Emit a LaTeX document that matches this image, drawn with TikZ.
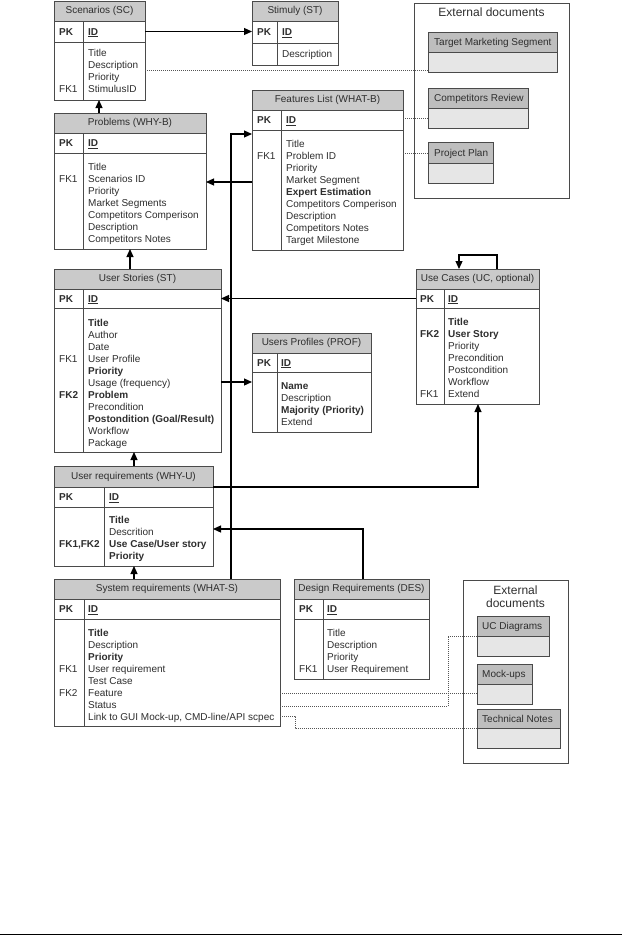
\documentclass[tikz,border=0pt]{standalone}
\usepackage{fontspec}
\setmainfont{Liberation Sans}
\usepackage{xcolor}
\usepackage{tikz}
\usetikzlibrary{calc,arrows.meta}
\definecolor{ink}{HTML}{2E2E2E}
\definecolor{edge}{HTML}{4A4A4A}
\definecolor{hdrfill}{HTML}{CACACA}
\definecolor{dochead}{HTML}{BEBEBE}
\definecolor{docbody}{HTML}{E6E6E6}
\definecolor{dotline}{HTML}{555555}
\tikzset{
  box/.style={draw=edge, line width=0.8pt, anchor=north west, inner sep=0pt, outer sep=0pt},
  hdr/.style={box, fill=hdrfill, text=ink},
  row/.style={box, fill=white},
  doch/.style={box, fill=dochead},
  docb/.style={box, fill=docbody},
  div/.style={draw=edge, line width=0.8pt},
  fld/.style={anchor=base west, text=ink, inner sep=0pt},
  key/.style={fld, font=\bfseries},
  ttl/.style={text=ink, inner sep=0pt, font=\fontsize{12}{13.5}\selectfont, align=center},
  fk/.style={draw=black, line width=1.2pt, -{Triangle[length=8pt,width=7pt]}},
  doc/.style={draw=dotline, line width=0.8pt, dash pattern=on 1pt off 1pt},
}

\begin{document}
\begin{tikzpicture}[x=1pt, y=-1pt, font=\fontsize{10}{12}\selectfont]
  \useasboundingbox (0,0) rectangle (624,937);

  % Scenarios
  \node[hdr, minimum width=91, minimum height=20] (sc) at (54,1) {Scenarios (SC)};
  \node[row, minimum width=91, minimum height=21] (sc-pk) at (54,21) {};
  \node[row, minimum width=91, minimum height=58] (sc-body) at (54,42) {};
  \draw[div] (83,21) -- (83,100);
  \node[key] (sc-k) at (59,35.1) {PK};
  \node[key] (sc-id) at (88,35.1) {\underline{ID}};
  \foreach \field [count=\i from 0] in {Title,Description,Priority,StimulusID}
    \node[fld] (sc-f\i) at (88,56.6+12*\i) {\field};
  \node[fld] (sc-fk1) at (59,92.6) {FK1};

  % Stimuly
  \node[hdr, minimum width=86, minimum height=20] (stm) at (252,1) {Stimuly (ST)};
  \node[row, minimum width=86, minimum height=22] (stm-pk) at (252,21) {};
  \node[row, minimum width=86, minimum height=22] (stm-body) at (252,43) {};
  \draw[div] (277,21) -- (277,65);
  \node[key] (stm-k) at (257,35.6) {PK};
  \node[key] (stm-id) at (282,35.6) {\underline{ID}};
  \node[fld] (stm-f0) at (282,57.6) {Description};

  % External documents (top)
  \node[box, minimum width=155, minimum height=195] (ext1) at (414,3) {};
  \node[ttl] (ext1-t) at (491.5,12) {External documents};
  \node[doch, minimum width=129, minimum height=20] (tms) at (428,32) {};
  \node[docb, minimum width=129, minimum height=20] (tms-body) at (428,52) {};
  \node[fld] (tms-t) at (434,45.6) {Target Marketing Segment};
  \node[doch, minimum width=100, minimum height=20] (cr) at (428,88) {};
  \node[docb, minimum width=100, minimum height=20] (cr-body) at (428,108) {};
  \node[fld] (cr-t) at (434,101.6) {Competitors Review};
  \node[doch, minimum width=65, minimum height=21] (pp) at (428,142) {};
  \node[docb, minimum width=65, minimum height=20] (pp-body) at (428,163) {};
  \node[fld] (pp-t) at (434,156.1) {Project Plan};

  % Problems
  \node[hdr, minimum width=152, minimum height=20] (pb) at (54,113) {Problems (WHY-B)};
  \node[row, minimum width=152, minimum height=20] (pb-pk) at (54,133) {};
  \node[row, minimum width=152, minimum height=96] (pb-body) at (54,153) {};
  \draw[div] (83,133) -- (83,249);
  \node[key] (pb-k) at (59,146.6) {PK};
  \node[key] (pb-id) at (88,146.6) {\underline{ID}};
  \foreach \field [count=\i from 0] in {Title,Scenarios ID,Priority,Market Segments,
      Competitors Comperison,Description,Competitors Notes}
    \node[fld] (pb-f\i) at (88,170.6+12*\i) {\field};
  \node[fld] (pb-fk1) at (59,182.6) {FK1};

  % Features List
  \node[hdr, minimum width=151, minimum height=20] (fl) at (252,90) {Features List (WHAT-B)};
  \node[row, minimum width=151, minimum height=20] (fl-pk) at (252,110) {};
  \node[row, minimum width=151, minimum height=120] (fl-body) at (252,130) {};
  \draw[div] (281,110) -- (281,250);
  \node[key] (fl-k) at (257,123.6) {PK};
  \node[key] (fl-id) at (286,123.6) {\underline{ID}};
  \foreach \field [count=\i from 0] in {Title,Problem ID,Priority,Market Segment,
      \textbf{Expert Estimation},Competitors Comperison,Description,
      Competitors Notes,Target Milestone}
    \node[fld] (fl-f\i) at (286,147.6+12*\i) {\field};
  \node[fld] (fl-fk1) at (257,159.6) {FK1};

  % User Stories
  \node[hdr, minimum width=167, minimum height=20] (us) at (54,269) {User Stories (ST)};
  \node[row, minimum width=167, minimum height=19] (us-pk) at (54,289) {};
  \node[row, minimum width=167, minimum height=144] (us-body) at (54,308) {};
  \draw[div] (83,289) -- (83,452);
  \node[key] (us-k) at (59,302.1) {PK};
  \node[key] (us-id) at (88,302.1) {\underline{ID}};
  \foreach \field [count=\i from 0] in {\textbf{Title},Author,Date,User Profile,
      \textbf{Priority},Usage (frequency),\textbf{Problem},Precondition,
      \textbf{Postondition (Goal/Result)},Workflow,Package}
    \node[fld] (us-f\i) at (88,326.6+12*\i) {\field};
  \node[fld] (us-fk1) at (59,362.6) {FK1};
  \node[key] (us-fk2) at (59,398.6) {FK2};

  % Use Cases
  \node[hdr, minimum width=123, minimum height=20] (uc) at (416,269) {Use Cases (UC, optional)};
  \node[row, minimum width=123, minimum height=19] (uc-pk) at (416,289) {};
  \node[row, minimum width=123, minimum height=96] (uc-body) at (416,308) {};
  \draw[div] (444,289) -- (444,404);
  \node[key] (uc-k) at (420,302.1) {PK};
  \node[key] (uc-id) at (448,302.1) {\underline{ID}};
  \foreach \field [count=\i from 0] in {\textbf{Title},\textbf{User Story},Priority,
      Precondition,Postcondition,Workflow,Extend}
    \node[fld] (uc-f\i) at (448,325.6+12*\i) {\field};
  \node[key] (uc-fk2) at (420,337.6) {FK2};
  \node[fld] (uc-fk1) at (420,397.6) {FK1};

  % Users Profiles
  \node[hdr, minimum width=119, minimum height=20] (up) at (252,333) {Users Profiles (PROF)};
  \node[row, minimum width=119, minimum height=19] (up-pk) at (252,353) {};
  \node[row, minimum width=119, minimum height=60] (up-body) at (252,372) {};
  \draw[div] (277,353) -- (277,432);
  \node[key] (up-k) at (257,366.1) {PK};
  \node[key] (up-id) at (281,366.1) {\underline{ID}};
  \foreach \field [count=\i from 0] in {\textbf{Name},Description,
      \textbf{Majority (Priority)},Extend}
    \node[fld] (up-f\i) at (281,389.6+12*\i) {\field};

  % User requirements
  \node[hdr, minimum width=159, minimum height=21] (ur) at (54,466) {User requirements (WHY-U)};
  \node[row, minimum width=159, minimum height=20] (ur-pk) at (54,487) {};
  \node[row, minimum width=159, minimum height=59] (ur-body) at (54,507) {};
  \draw[div] (104,487) -- (104,566);
  \node[key] (ur-k) at (59,500.6) {PK};
  \node[key] (ur-id) at (109,500.6) {\underline{ID}};
  \foreach \field [count=\i from 0] in {\textbf{Title},Descrition,
      \textbf{Use Case/User story},\textbf{Priority}}
    \node[fld] (ur-f\i) at (109,523.6+12*\i) {\field};
  \node[key] (ur-fk) at (59,547.6) {FK1,FK2};

  % System requirements
  \node[hdr, minimum width=226, minimum height=20] (sr) at (54,579) {System requirements (WHAT-S)};
  \node[row, minimum width=226, minimum height=20] (sr-pk) at (54,599) {};
  \node[row, minimum width=226, minimum height=107] (sr-body) at (54,619) {};
  \draw[div] (84,599) -- (84,726);
  \node[key] (sr-k) at (59,612.6) {PK};
  \node[key] (sr-id) at (88,612.6) {\underline{ID}};
  \foreach \field [count=\i from 0] in {\textbf{Title},Description,\textbf{Priority},
      User requirement,Test Case,Feature,Status,
      {Link to GUI Mock-up, CMD-line/API scpec}}
    \node[fld] (sr-f\i) at (88,636.6+12*\i) {\field};
  \node[fld] (sr-fk1) at (59,672.6) {FK1};
  \node[fld] (sr-fk2) at (59,696.6) {FK2};

  % Design Requirements
  \node[hdr, minimum width=135, minimum height=20] (ds) at (294,579) {Design Requirements (DES)};
  \node[row, minimum width=135, minimum height=20] (ds-pk) at (294,599) {};
  \node[row, minimum width=135, minimum height=60] (ds-body) at (294,619) {};
  \draw[div] (323,599) -- (323,679);
  \node[key] (ds-k) at (299,612.6) {PK};
  \node[key] (ds-id) at (327,612.6) {\underline{ID}};
  \foreach \field [count=\i from 0] in {Title,Description,Priority,User Requirement}
    \node[fld] (ds-f\i) at (327,636.6+12*\i) {\field};
  \node[fld] (ds-fk1) at (299,672.6) {FK1};

  % External documents (bottom)
  \node[box, minimum width=105, minimum height=183] (ext2) at (463,580) {};
  \node[ttl] (ext2-t) at (515.5,596.5) {External\\documents};
  \node[doch, minimum width=72, minimum height=20] (ucd) at (477,616) {};
  \node[docb, minimum width=72, minimum height=20] (ucd-body) at (477,636) {};
  \node[fld] (ucd-t) at (482,629.6) {UC Diagrams};
  \node[doch, minimum width=55, minimum height=20] (mu) at (477,664) {};
  \node[docb, minimum width=55, minimum height=20] (mu-body) at (477,684) {};
  \node[fld] (mu-t) at (482,677.6) {Mock-ups};
  \node[doch, minimum width=83, minimum height=19] (tn) at (477,709) {};
  \node[docb, minimum width=83, minimum height=20] (tn-body) at (477,728) {};
  \node[fld] (tn-t) at (482,722.1) {Technical Notes};

  % references
  \draw[fk] (sc-pk.east) -- (sc-pk.east -| stm-pk.west);
  \draw[fk] ($(pb.north west)+(45,0)$) -- ($(sc-body.south west)+(45,0)$);
  \draw[fk] ($(us.north west)+(76,0)$) -- ($(pb-body.south west)+(76,0)$);
  \draw[fk] ($(ur.north west)+(80,0)$) -- ($(us-body.south west)+(80,0)$);
  \draw[fk] ($(sr.north west)+(80,0)$) -- ($(ur-body.south west)+(80,0)$);
  \draw[fk] ($(fl-body.north west)+(0,52)$) -- ($(pb-body.north east)+(0,29)$);
  \draw[fk] ($(sr.north west)+(177,0)$) |- ($(fl-body.north west)+(0,4)$);
  \draw[fk] (uc-pk.west) -- (us-pk.east);
  \draw[fk] ($(uc.north west)+(81,0)$) -- ++(0,-14) -| ($(uc.north west)+(43,0)$);
  \draw[fk] (ur-pk.north east) -| ($(uc-body.south west)+(62,0)$);
  \draw[fk] ($(ds.north west)+(69,0)$) |- ($(ur-body.north east)+(0,22)$);
  \draw[fk] ($(us-body.north east)+(0,74)$) -- ($(up-body.north west)+(0,10)$);

  % links to documents
  \draw[doc] ($(sc-body.north east)+(0,28)$) -- ($(tms-body.south west)+(0,-2)$);
  \draw[doc] ($(fl-pk.north east)+(0,8)$) -- ($(cr-body.north west)+(0,10)$);
  \draw[doc] ($(fl-body.north east)+(0,23)$) -- ($(pp.north west)+(0,11)$);
  \draw[doc] ($(sr-body.north east)+(0,74)$) -- ($(mu-body.north west)+(0,9)$);
  \draw[doc] ($(sr-body.north east)+(0,87)$) -- ++(168,0) |- (ucd.south west);
  \draw[doc] ($(sr-body.north east)+(0,97)$) -- ++(15,0) |- (tn.south west);

  \draw[line width=1.2pt] (0,934.5) -- (622,934.5);
\end{tikzpicture}
\end{document}
